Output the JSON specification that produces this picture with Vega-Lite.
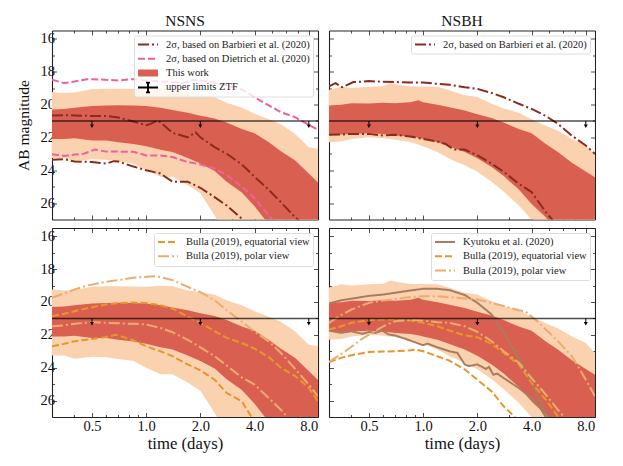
{
  "$schema": "https://vega.github.io/schema/vega-lite/v6.json",
  "background": "white",
  "padding": {"left": 16, "top": 13.5, "right": 0, "bottom": 0},
  "columns": 2,
  "spacing": {"row": 6.5, "column": 9},
  "resolve": {
    "scale": {"stroke": "independent", "fill": "independent", "shape": "independent", "strokeDash": "independent"},
    "legend": {"stroke": "independent", "fill": "independent", "shape": "independent", "strokeDash": "independent"}
  },
  "config": {
    "view": {"stroke": null},
    "font": "Liberation Serif",
    "title": {"fontSize": 15.5, "fontWeight": "normal", "offset": 1, "color": "#111"},
    "axis": {
      "grid": false, "zindex": 1, "domainColor": "#222", "tickColor": "#222", "labelColor": "#111", "titleColor": "#111",
      "labelFontSize": 14.5, "titleFontWeight": "normal", "tickWidth": 0.8, "domainWidth": 1.1,
      "labelFont": "Liberation Serif", "titleFont": "Liberation Serif", "tickSize": -4.5
    },
    "axisX": {"labelPadding": 6.5, "titlePadding": 3, "titleFontSize": 16.7},
    "axisY": {"labelPadding": 2, "titlePadding": 8.5, "titleFontSize": 15.5},
    "legend": {
      "orient": "top-right", "offset": 5, "padding": 3, "labelFontSize": 10.5, "labelFont": "Liberation Serif", "labelColor": "#222",
      "fillColor": "rgba(255,255,255,0.8)", "strokeColor": "#ddd", "cornerRadius": 2, "labelLimit": 300,
      "symbolSize": 400, "clipHeight": 12, "rowPadding": 2.3, "labelOffset": 7, "symbolStrokeWidth": 2, "symbolOpacity": 1
    }
  },
  "datasets": {
    "bands": [
      {"model":"NSNS","level":"outer","t":0.3,"mag":19.24,"mag2":23.26},{"model":"NSNS","level":"outer","t":0.35,"mag":19.3,"mag2":23.26},{"model":"NSNS","level":"outer","t":0.4,"mag":19.28,"mag2":23.45},{"model":"NSNS","level":"outer","t":0.5,"mag":19.08,"mag2":23.33},{"model":"NSNS","level":"outer","t":0.6,"mag":19.05,"mag2":23.37},{"model":"NSNS","level":"outer","t":0.7,"mag":19.05,"mag2":23.47},{"model":"NSNS","level":"outer","t":0.85,"mag":19.06,"mag2":23.6},{"model":"NSNS","level":"outer","t":1,"mag":19.08,"mag2":24},{"model":"NSNS","level":"outer","t":1.2,"mag":19.02,"mag2":24.4},{"model":"NSNS","level":"outer","t":1.4,"mag":19.04,"mag2":24.4},{"model":"NSNS","level":"outer","t":1.7,"mag":19.3,"mag2":24.9},{"model":"NSNS","level":"outer","t":2,"mag":19.4,"mag2":25.4},{"model":"NSNS","level":"outer","t":2.4,"mag":19.56,"mag2":26.75},{"model":"NSNS","level":"outer","t":2.8,"mag":19.9,"mag2":28},{"model":"NSNS","level":"outer","t":3.4,"mag":20.2,"mag2":29},{"model":"NSNS","level":"outer","t":4,"mag":20.56,"mag2":30},{"model":"NSNS","level":"outer","t":4.8,"mag":20.9,"mag2":31},{"model":"NSNS","level":"outer","t":5.6,"mag":21.2,"mag2":32},{"model":"NSNS","level":"outer","t":6.7,"mag":21.78,"mag2":33},{"model":"NSNS","level":"outer","t":8,"mag":22.6,"mag2":34},{"model":"NSNS","level":"outer","t":9,"mag":22.7,"mag2":35},
      {"model":"NSNS","level":"inner","t":0.3,"mag":20.3,"mag2":22.1},{"model":"NSNS","level":"inner","t":0.35,"mag":20.28,"mag2":22.1},{"model":"NSNS","level":"inner","t":0.4,"mag":20.2,"mag2":22.05},{"model":"NSNS","level":"inner","t":0.5,"mag":20.1,"mag2":22.2},{"model":"NSNS","level":"inner","t":0.6,"mag":20.07,"mag2":22.2},{"model":"NSNS","level":"inner","t":0.7,"mag":20.05,"mag2":22.3},{"model":"NSNS","level":"inner","t":0.85,"mag":20.07,"mag2":22.4},{"model":"NSNS","level":"inner","t":1,"mag":20.1,"mag2":22.55},{"model":"NSNS","level":"inner","t":1.2,"mag":20.2,"mag2":22.75},{"model":"NSNS","level":"inner","t":1.4,"mag":20.34,"mag2":22.9},{"model":"NSNS","level":"inner","t":1.7,"mag":20.5,"mag2":23.26},{"model":"NSNS","level":"inner","t":2,"mag":20.68,"mag2":23.6},{"model":"NSNS","level":"inner","t":2.4,"mag":20.85,"mag2":24.05},{"model":"NSNS","level":"inner","t":2.8,"mag":21.1,"mag2":24.7},{"model":"NSNS","level":"inner","t":3.4,"mag":21.5,"mag2":25.35},{"model":"NSNS","level":"inner","t":4,"mag":21.75,"mag2":26.2},{"model":"NSNS","level":"inner","t":4.8,"mag":22.3,"mag2":27.3},{"model":"NSNS","level":"inner","t":5.6,"mag":22.85,"mag2":28.5},{"model":"NSNS","level":"inner","t":6.7,"mag":23.4,"mag2":30},{"model":"NSNS","level":"inner","t":8,"mag":24.2,"mag2":31},{"model":"NSNS","level":"inner","t":9,"mag":24.75,"mag2":32},
      {"model":"NSBH","level":"outer","t":0.3,"mag":19.12,"mag2":22.3},{"model":"NSBH","level":"outer","t":0.35,"mag":18.92,"mag2":22.25},{"model":"NSBH","level":"outer","t":0.4,"mag":19,"mag2":22.1},{"model":"NSBH","level":"outer","t":0.5,"mag":18.93,"mag2":22},{"model":"NSBH","level":"outer","t":0.6,"mag":18.89,"mag2":22.05},{"model":"NSBH","level":"outer","t":0.66,"mag":18.7,"mag2":22.1},{"model":"NSBH","level":"outer","t":0.7,"mag":18.77,"mag2":22.15},{"model":"NSBH","level":"outer","t":0.85,"mag":18.9,"mag2":22.29},{"model":"NSBH","level":"outer","t":1,"mag":18.9,"mag2":22.55},{"model":"NSBH","level":"outer","t":1.2,"mag":18.93,"mag2":22.9},{"model":"NSBH","level":"outer","t":1.4,"mag":19.14,"mag2":23.3},{"model":"NSBH","level":"outer","t":1.7,"mag":19.44,"mag2":23.7},{"model":"NSBH","level":"outer","t":2,"mag":19.55,"mag2":24.1},{"model":"NSBH","level":"outer","t":2.4,"mag":19.95,"mag2":24.7},{"model":"NSBH","level":"outer","t":2.8,"mag":20.25,"mag2":25.3},{"model":"NSBH","level":"outer","t":3.4,"mag":20.5,"mag2":26.15},{"model":"NSBH","level":"outer","t":4,"mag":20.9,"mag2":27},{"model":"NSBH","level":"outer","t":4.8,"mag":21.3,"mag2":28.5},{"model":"NSBH","level":"outer","t":5.6,"mag":21.6,"mag2":30},{"model":"NSBH","level":"outer","t":6.7,"mag":22.1,"mag2":31},{"model":"NSBH","level":"outer","t":8,"mag":22.5,"mag2":32},{"model":"NSBH","level":"outer","t":9,"mag":23.1,"mag2":33},
      {"model":"NSBH","level":"inner","t":0.3,"mag":20.06,"mag2":21.79},{"model":"NSBH","level":"inner","t":0.35,"mag":20.02,"mag2":21.83},{"model":"NSBH","level":"inner","t":0.4,"mag":19.92,"mag2":21.79},{"model":"NSBH","level":"inner","t":0.5,"mag":19.94,"mag2":21.75},{"model":"NSBH","level":"inner","t":0.6,"mag":19.9,"mag2":21.79},{"model":"NSBH","level":"inner","t":0.7,"mag":19.92,"mag2":21.89},{"model":"NSBH","level":"inner","t":0.85,"mag":19.86,"mag2":21.95},{"model":"NSBH","level":"inner","t":0.94,"mag":19.74,"mag2":22.02},{"model":"NSBH","level":"inner","t":1,"mag":19.86,"mag2":22.1},{"model":"NSBH","level":"inner","t":1.2,"mag":20.02,"mag2":22.3},{"model":"NSBH","level":"inner","t":1.4,"mag":20.17,"mag2":22.56},{"model":"NSBH","level":"inner","t":1.7,"mag":20.37,"mag2":22.9},{"model":"NSBH","level":"inner","t":2,"mag":20.6,"mag2":23.27},{"model":"NSBH","level":"inner","t":2.4,"mag":20.83,"mag2":23.8},{"model":"NSBH","level":"inner","t":2.8,"mag":21.1,"mag2":24.36},{"model":"NSBH","level":"inner","t":3.4,"mag":21.5,"mag2":25.18},{"model":"NSBH","level":"inner","t":4,"mag":21.75,"mag2":26.05},{"model":"NSBH","level":"inner","t":4.8,"mag":22.4,"mag2":26.86},{"model":"NSBH","level":"inner","t":5.6,"mag":22.9,"mag2":28},{"model":"NSBH","level":"inner","t":6.7,"mag":23.55,"mag2":29},{"model":"NSBH","level":"inner","t":8,"mag":24.08,"mag2":30},{"model":"NSBH","level":"inner","t":9,"mag":24.43,"mag2":31}
    ],
    "limits": [
      {"t":0.5,"mag":21,"mag2":21.33},{"t":2,"mag":21,"mag2":21.33},{"t":8,"mag":21,"mag2":21.33}
    ],
    "curves": [
      {"panel":"a","series":"2σ, based on Barbieri et al. (2020)","curve":"bright","t":0.3,"mag":20.67},{"panel":"a","series":"2σ, based on Barbieri et al. (2020)","curve":"bright","t":0.35,"mag":20.65},{"panel":"a","series":"2σ, based on Barbieri et al. (2020)","curve":"bright","t":0.4,"mag":20.67},{"panel":"a","series":"2σ, based on Barbieri et al. (2020)","curve":"bright","t":0.5,"mag":20.7},{"panel":"a","series":"2σ, based on Barbieri et al. (2020)","curve":"bright","t":0.6,"mag":20.7},{"panel":"a","series":"2σ, based on Barbieri et al. (2020)","curve":"bright","t":0.7,"mag":20.8},{"panel":"a","series":"2σ, based on Barbieri et al. (2020)","curve":"bright","t":0.85,"mag":21.04},{"panel":"a","series":"2σ, based on Barbieri et al. (2020)","curve":"bright","t":1,"mag":21.26},{"panel":"a","series":"2σ, based on Barbieri et al. (2020)","curve":"bright","t":1.06,"mag":21.18},{"panel":"a","series":"2σ, based on Barbieri et al. (2020)","curve":"bright","t":1.15,"mag":20.98},{"panel":"a","series":"2σ, based on Barbieri et al. (2020)","curve":"bright","t":1.2,"mag":21.08},{"panel":"a","series":"2σ, based on Barbieri et al. (2020)","curve":"bright","t":1.4,"mag":21.73},{"panel":"a","series":"2σ, based on Barbieri et al. (2020)","curve":"bright","t":1.7,"mag":22},{"panel":"a","series":"2σ, based on Barbieri et al. (2020)","curve":"bright","t":1.88,"mag":21.7},{"panel":"a","series":"2σ, based on Barbieri et al. (2020)","curve":"bright","t":2,"mag":22},{"panel":"a","series":"2σ, based on Barbieri et al. (2020)","curve":"bright","t":2.4,"mag":22.6},{"panel":"a","series":"2σ, based on Barbieri et al. (2020)","curve":"bright","t":2.8,"mag":23},{"panel":"a","series":"2σ, based on Barbieri et al. (2020)","curve":"bright","t":3.4,"mag":23.65},{"panel":"a","series":"2σ, based on Barbieri et al. (2020)","curve":"bright","t":4,"mag":24.4},{"panel":"a","series":"2σ, based on Barbieri et al. (2020)","curve":"bright","t":4.8,"mag":25.2},{"panel":"a","series":"2σ, based on Barbieri et al. (2020)","curve":"bright","t":5.6,"mag":25.95},{"panel":"a","series":"2σ, based on Barbieri et al. (2020)","curve":"bright","t":6.7,"mag":26.85},{"panel":"a","series":"2σ, based on Barbieri et al. (2020)","curve":"bright","t":8,"mag":27.6},
      {"panel":"a","series":"2σ, based on Barbieri et al. (2020)","curve":"faint","t":0.3,"mag":23.37},{"panel":"a","series":"2σ, based on Barbieri et al. (2020)","curve":"faint","t":0.35,"mag":23.33},{"panel":"a","series":"2σ, based on Barbieri et al. (2020)","curve":"faint","t":0.4,"mag":23.47},{"panel":"a","series":"2σ, based on Barbieri et al. (2020)","curve":"faint","t":0.5,"mag":23.5},{"panel":"a","series":"2σ, based on Barbieri et al. (2020)","curve":"faint","t":0.6,"mag":23.6},{"panel":"a","series":"2σ, based on Barbieri et al. (2020)","curve":"faint","t":0.66,"mag":23.45},{"panel":"a","series":"2σ, based on Barbieri et al. (2020)","curve":"faint","t":0.7,"mag":23.47},{"panel":"a","series":"2σ, based on Barbieri et al. (2020)","curve":"faint","t":0.85,"mag":23.78},{"panel":"a","series":"2σ, based on Barbieri et al. (2020)","curve":"faint","t":1,"mag":24},{"panel":"a","series":"2σ, based on Barbieri et al. (2020)","curve":"faint","t":1.2,"mag":24.2},{"panel":"a","series":"2σ, based on Barbieri et al. (2020)","curve":"faint","t":1.4,"mag":24.7},{"panel":"a","series":"2σ, based on Barbieri et al. (2020)","curve":"faint","t":1.7,"mag":24.7},{"panel":"a","series":"2σ, based on Barbieri et al. (2020)","curve":"faint","t":2,"mag":25.07},{"panel":"a","series":"2σ, based on Barbieri et al. (2020)","curve":"faint","t":2.4,"mag":25.64},{"panel":"a","series":"2σ, based on Barbieri et al. (2020)","curve":"faint","t":2.8,"mag":26.15},{"panel":"a","series":"2σ, based on Barbieri et al. (2020)","curve":"faint","t":3.4,"mag":26.96},{"panel":"a","series":"2σ, based on Barbieri et al. (2020)","curve":"faint","t":4,"mag":27.8},
      {"panel":"a","series":"2σ, based on Dietrich et al. (2020)","curve":"bright","t":0.3,"mag":18.5},{"panel":"a","series":"2σ, based on Dietrich et al. (2020)","curve":"bright","t":0.35,"mag":18.7},{"panel":"a","series":"2σ, based on Dietrich et al. (2020)","curve":"bright","t":0.4,"mag":18.6},{"panel":"a","series":"2σ, based on Dietrich et al. (2020)","curve":"bright","t":0.47,"mag":18.46},{"panel":"a","series":"2σ, based on Dietrich et al. (2020)","curve":"bright","t":0.5,"mag":18.46},{"panel":"a","series":"2σ, based on Dietrich et al. (2020)","curve":"bright","t":0.7,"mag":18.54},{"panel":"a","series":"2σ, based on Dietrich et al. (2020)","curve":"bright","t":0.85,"mag":18.46},{"panel":"a","series":"2σ, based on Dietrich et al. (2020)","curve":"bright","t":1,"mag":18.54},{"panel":"a","series":"2σ, based on Dietrich et al. (2020)","curve":"bright","t":1.2,"mag":18.6},{"panel":"a","series":"2σ, based on Dietrich et al. (2020)","curve":"bright","t":1.4,"mag":18.64},{"panel":"a","series":"2σ, based on Dietrich et al. (2020)","curve":"bright","t":1.59,"mag":18.7},{"panel":"a","series":"2σ, based on Dietrich et al. (2020)","curve":"bright","t":1.81,"mag":18.5},{"panel":"a","series":"2σ, based on Dietrich et al. (2020)","curve":"bright","t":2,"mag":18.54},{"panel":"a","series":"2σ, based on Dietrich et al. (2020)","curve":"bright","t":2.4,"mag":18.68},{"panel":"a","series":"2σ, based on Dietrich et al. (2020)","curve":"bright","t":2.8,"mag":18.85},{"panel":"a","series":"2σ, based on Dietrich et al. (2020)","curve":"bright","t":3.4,"mag":19.09},{"panel":"a","series":"2σ, based on Dietrich et al. (2020)","curve":"bright","t":4,"mag":19.56},{"panel":"a","series":"2σ, based on Dietrich et al. (2020)","curve":"bright","t":4.8,"mag":20.06},{"panel":"a","series":"2σ, based on Dietrich et al. (2020)","curve":"bright","t":5.6,"mag":20.47},{"panel":"a","series":"2σ, based on Dietrich et al. (2020)","curve":"bright","t":6.7,"mag":20.77},{"panel":"a","series":"2σ, based on Dietrich et al. (2020)","curve":"bright","t":8,"mag":21.24},{"panel":"a","series":"2σ, based on Dietrich et al. (2020)","curve":"bright","t":9,"mag":21.54},
      {"panel":"a","series":"2σ, based on Dietrich et al. (2020)","curve":"faint","t":0.3,"mag":23.03},{"panel":"a","series":"2σ, based on Dietrich et al. (2020)","curve":"faint","t":0.35,"mag":23.13},{"panel":"a","series":"2σ, based on Dietrich et al. (2020)","curve":"faint","t":0.4,"mag":23.05},{"panel":"a","series":"2σ, based on Dietrich et al. (2020)","curve":"faint","t":0.45,"mag":23},{"panel":"a","series":"2σ, based on Dietrich et al. (2020)","curve":"faint","t":0.52,"mag":22.74},{"panel":"a","series":"2σ, based on Dietrich et al. (2020)","curve":"faint","t":0.6,"mag":22.87},{"panel":"a","series":"2σ, based on Dietrich et al. (2020)","curve":"faint","t":0.7,"mag":22.87},{"panel":"a","series":"2σ, based on Dietrich et al. (2020)","curve":"faint","t":0.85,"mag":22.88},{"panel":"a","series":"2σ, based on Dietrich et al. (2020)","curve":"faint","t":1,"mag":23.1},{"panel":"a","series":"2σ, based on Dietrich et al. (2020)","curve":"faint","t":1.2,"mag":23.1},{"panel":"a","series":"2σ, based on Dietrich et al. (2020)","curve":"faint","t":1.4,"mag":23.2},{"panel":"a","series":"2σ, based on Dietrich et al. (2020)","curve":"faint","t":1.7,"mag":23.5},{"panel":"a","series":"2σ, based on Dietrich et al. (2020)","curve":"faint","t":2,"mag":23.65},{"panel":"a","series":"2σ, based on Dietrich et al. (2020)","curve":"faint","t":2.4,"mag":23.9},{"panel":"a","series":"2σ, based on Dietrich et al. (2020)","curve":"faint","t":2.8,"mag":24.3},{"panel":"a","series":"2σ, based on Dietrich et al. (2020)","curve":"faint","t":3.4,"mag":25},{"panel":"a","series":"2σ, based on Dietrich et al. (2020)","curve":"faint","t":4,"mag":25.7},{"panel":"a","series":"2σ, based on Dietrich et al. (2020)","curve":"faint","t":4.8,"mag":26.75},{"panel":"a","series":"2σ, based on Dietrich et al. (2020)","curve":"faint","t":5.13,"mag":27.1},{"panel":"a","series":"2σ, based on Dietrich et al. (2020)","curve":"faint","t":5.6,"mag":27.7},

      {"panel":"b","series":"2σ, based on Barbieri et al. (2020)","curve":"bright","t":0.3,"mag":18.9},{"panel":"b","series":"2σ, based on Barbieri et al. (2020)","curve":"bright","t":0.326,"mag":18.7},{"panel":"b","series":"2σ, based on Barbieri et al. (2020)","curve":"bright","t":0.355,"mag":18.95},{"panel":"b","series":"2σ, based on Barbieri et al. (2020)","curve":"bright","t":0.41,"mag":18.64},{"panel":"b","series":"2σ, based on Barbieri et al. (2020)","curve":"bright","t":0.5,"mag":18.58},{"panel":"b","series":"2σ, based on Barbieri et al. (2020)","curve":"bright","t":0.6,"mag":18.62},{"panel":"b","series":"2σ, based on Barbieri et al. (2020)","curve":"bright","t":0.85,"mag":18.66},{"panel":"b","series":"2σ, based on Barbieri et al. (2020)","curve":"bright","t":1,"mag":18.66},{"panel":"b","series":"2σ, based on Barbieri et al. (2020)","curve":"bright","t":1.2,"mag":18.75},{"panel":"b","series":"2σ, based on Barbieri et al. (2020)","curve":"bright","t":1.4,"mag":18.8},{"panel":"b","series":"2σ, based on Barbieri et al. (2020)","curve":"bright","t":1.7,"mag":18.95},{"panel":"b","series":"2σ, based on Barbieri et al. (2020)","curve":"bright","t":2,"mag":19.05},{"panel":"b","series":"2σ, based on Barbieri et al. (2020)","curve":"bright","t":2.4,"mag":19.3},{"panel":"b","series":"2σ, based on Barbieri et al. (2020)","curve":"bright","t":2.8,"mag":19.56},{"panel":"b","series":"2σ, based on Barbieri et al. (2020)","curve":"bright","t":3.4,"mag":19.96},{"panel":"b","series":"2σ, based on Barbieri et al. (2020)","curve":"bright","t":4,"mag":20.27},{"panel":"b","series":"2σ, based on Barbieri et al. (2020)","curve":"bright","t":4.8,"mag":20.7},{"panel":"b","series":"2σ, based on Barbieri et al. (2020)","curve":"bright","t":5.6,"mag":21.18},{"panel":"b","series":"2σ, based on Barbieri et al. (2020)","curve":"bright","t":6.7,"mag":21.9},{"panel":"b","series":"2σ, based on Barbieri et al. (2020)","curve":"bright","t":8,"mag":22.5},{"panel":"b","series":"2σ, based on Barbieri et al. (2020)","curve":"bright","t":9,"mag":23},
      {"panel":"b","series":"2σ, based on Barbieri et al. (2020)","curve":"faint","t":0.3,"mag":21.85},{"panel":"b","series":"2σ, based on Barbieri et al. (2020)","curve":"faint","t":0.35,"mag":21.83},{"panel":"b","series":"2σ, based on Barbieri et al. (2020)","curve":"faint","t":0.4,"mag":21.79},{"panel":"b","series":"2σ, based on Barbieri et al. (2020)","curve":"faint","t":0.5,"mag":21.79},{"panel":"b","series":"2σ, based on Barbieri et al. (2020)","curve":"faint","t":0.6,"mag":21.89},{"panel":"b","series":"2σ, based on Barbieri et al. (2020)","curve":"faint","t":0.7,"mag":21.85},{"panel":"b","series":"2σ, based on Barbieri et al. (2020)","curve":"faint","t":0.85,"mag":21.95},{"panel":"b","series":"2σ, based on Barbieri et al. (2020)","curve":"faint","t":1,"mag":22.1},{"panel":"b","series":"2σ, based on Barbieri et al. (2020)","curve":"faint","t":1.2,"mag":22.26},{"panel":"b","series":"2σ, based on Barbieri et al. (2020)","curve":"faint","t":1.33,"mag":22.4},{"panel":"b","series":"2σ, based on Barbieri et al. (2020)","curve":"faint","t":1.48,"mag":22.74},{"panel":"b","series":"2σ, based on Barbieri et al. (2020)","curve":"faint","t":1.7,"mag":22.74},{"panel":"b","series":"2σ, based on Barbieri et al. (2020)","curve":"faint","t":2,"mag":23.1},{"panel":"b","series":"2σ, based on Barbieri et al. (2020)","curve":"faint","t":2.4,"mag":23.6},{"panel":"b","series":"2σ, based on Barbieri et al. (2020)","curve":"faint","t":2.8,"mag":24.1},{"panel":"b","series":"2σ, based on Barbieri et al. (2020)","curve":"faint","t":3.4,"mag":24.83},{"panel":"b","series":"2σ, based on Barbieri et al. (2020)","curve":"faint","t":4,"mag":25.33},{"panel":"b","series":"2σ, based on Barbieri et al. (2020)","curve":"faint","t":4.8,"mag":26.55},{"panel":"b","series":"2σ, based on Barbieri et al. (2020)","curve":"faint","t":5.2,"mag":27},{"panel":"b","series":"2σ, based on Barbieri et al. (2020)","curve":"faint","t":5.6,"mag":27.6},

      {"panel":"c","series":"Bulla (2019), equatorial view","curve":"bright","t":0.3,"mag":20.87},{"panel":"c","series":"Bulla (2019), equatorial view","curve":"bright","t":0.35,"mag":20.72},{"panel":"c","series":"Bulla (2019), equatorial view","curve":"bright","t":0.4,"mag":20.56},{"panel":"c","series":"Bulla (2019), equatorial view","curve":"bright","t":0.5,"mag":20.32},{"panel":"c","series":"Bulla (2019), equatorial view","curve":"bright","t":0.6,"mag":20.15},{"panel":"c","series":"Bulla (2019), equatorial view","curve":"bright","t":0.7,"mag":20.07},{"panel":"c","series":"Bulla (2019), equatorial view","curve":"bright","t":0.85,"mag":20.03},{"panel":"c","series":"Bulla (2019), equatorial view","curve":"bright","t":1,"mag":20.07},{"panel":"c","series":"Bulla (2019), equatorial view","curve":"bright","t":1.2,"mag":20.2},{"panel":"c","series":"Bulla (2019), equatorial view","curve":"bright","t":1.4,"mag":20.4},{"panel":"c","series":"Bulla (2019), equatorial view","curve":"bright","t":1.7,"mag":20.9},{"panel":"c","series":"Bulla (2019), equatorial view","curve":"bright","t":2,"mag":21.27},{"panel":"c","series":"Bulla (2019), equatorial view","curve":"bright","t":2.4,"mag":21.78},{"panel":"c","series":"Bulla (2019), equatorial view","curve":"bright","t":2.8,"mag":22.19},{"panel":"c","series":"Bulla (2019), equatorial view","curve":"bright","t":3.4,"mag":22.5},{"panel":"c","series":"Bulla (2019), equatorial view","curve":"bright","t":4,"mag":22.84},{"panel":"c","series":"Bulla (2019), equatorial view","curve":"bright","t":4.8,"mag":23.36},{"panel":"c","series":"Bulla (2019), equatorial view","curve":"bright","t":5.6,"mag":24},{"panel":"c","series":"Bulla (2019), equatorial view","curve":"bright","t":6.7,"mag":24.5},{"panel":"c","series":"Bulla (2019), equatorial view","curve":"bright","t":8,"mag":25.23},{"panel":"c","series":"Bulla (2019), equatorial view","curve":"bright","t":9,"mag":26.05},
      {"panel":"c","series":"Bulla (2019), equatorial view","curve":"faint","t":0.3,"mag":22.7},{"panel":"c","series":"Bulla (2019), equatorial view","curve":"faint","t":0.35,"mag":22.55},{"panel":"c","series":"Bulla (2019), equatorial view","curve":"faint","t":0.4,"mag":22.39},{"panel":"c","series":"Bulla (2019), equatorial view","curve":"faint","t":0.5,"mag":22.25},{"panel":"c","series":"Bulla (2019), equatorial view","curve":"faint","t":0.6,"mag":22.13},{"panel":"c","series":"Bulla (2019), equatorial view","curve":"faint","t":0.68,"mag":22},{"panel":"c","series":"Bulla (2019), equatorial view","curve":"faint","t":0.7,"mag":22.04},{"panel":"c","series":"Bulla (2019), equatorial view","curve":"faint","t":0.85,"mag":22.33},{"panel":"c","series":"Bulla (2019), equatorial view","curve":"faint","t":1,"mag":22.7},{"panel":"c","series":"Bulla (2019), equatorial view","curve":"faint","t":1.2,"mag":23},{"panel":"c","series":"Bulla (2019), equatorial view","curve":"faint","t":1.4,"mag":23.3},{"panel":"c","series":"Bulla (2019), equatorial view","curve":"faint","t":1.7,"mag":23.8},{"panel":"c","series":"Bulla (2019), equatorial view","curve":"faint","t":2,"mag":24.16},{"panel":"c","series":"Bulla (2019), equatorial view","curve":"faint","t":2.4,"mag":24.73},{"panel":"c","series":"Bulla (2019), equatorial view","curve":"faint","t":2.8,"mag":25.54},{"panel":"c","series":"Bulla (2019), equatorial view","curve":"faint","t":3.4,"mag":26.05},{"panel":"c","series":"Bulla (2019), equatorial view","curve":"faint","t":4,"mag":27.3},
      {"panel":"c","series":"Bulla (2019), polar view","curve":"bright","t":0.3,"mag":19.75},{"panel":"c","series":"Bulla (2019), polar view","curve":"bright","t":0.4,"mag":19.24},{"panel":"c","series":"Bulla (2019), polar view","curve":"bright","t":0.47,"mag":19},{"panel":"c","series":"Bulla (2019), polar view","curve":"bright","t":0.6,"mag":18.77},{"panel":"c","series":"Bulla (2019), polar view","curve":"bright","t":0.85,"mag":18.53},{"panel":"c","series":"Bulla (2019), polar view","curve":"bright","t":1,"mag":18.47},{"panel":"c","series":"Bulla (2019), polar view","curve":"bright","t":1.15,"mag":18.43},{"panel":"c","series":"Bulla (2019), polar view","curve":"bright","t":1.4,"mag":18.67},{"panel":"c","series":"Bulla (2019), polar view","curve":"bright","t":1.7,"mag":19.08},{"panel":"c","series":"Bulla (2019), polar view","curve":"bright","t":2,"mag":19.4},{"panel":"c","series":"Bulla (2019), polar view","curve":"bright","t":2.4,"mag":19.9},{"panel":"c","series":"Bulla (2019), polar view","curve":"bright","t":2.8,"mag":20.5},{"panel":"c","series":"Bulla (2019), polar view","curve":"bright","t":3.4,"mag":21.2},{"panel":"c","series":"Bulla (2019), polar view","curve":"bright","t":4,"mag":21.8},{"panel":"c","series":"Bulla (2019), polar view","curve":"bright","t":4.8,"mag":22.4},{"panel":"c","series":"Bulla (2019), polar view","curve":"bright","t":5.6,"mag":23.1},{"panel":"c","series":"Bulla (2019), polar view","curve":"bright","t":6.7,"mag":24.06},{"panel":"c","series":"Bulla (2019), polar view","curve":"bright","t":8,"mag":25.03},{"panel":"c","series":"Bulla (2019), polar view","curve":"bright","t":9,"mag":25.74},
      {"panel":"c","series":"Bulla (2019), polar view","curve":"faint","t":0.3,"mag":21.48},{"panel":"c","series":"Bulla (2019), polar view","curve":"faint","t":0.35,"mag":21.42},{"panel":"c","series":"Bulla (2019), polar view","curve":"faint","t":0.4,"mag":21.33},{"panel":"c","series":"Bulla (2019), polar view","curve":"faint","t":0.5,"mag":21.23},{"panel":"c","series":"Bulla (2019), polar view","curve":"faint","t":0.6,"mag":21.27},{"panel":"c","series":"Bulla (2019), polar view","curve":"faint","t":0.7,"mag":21.3},{"panel":"c","series":"Bulla (2019), polar view","curve":"faint","t":0.85,"mag":21.33},{"panel":"c","series":"Bulla (2019), polar view","curve":"faint","t":1,"mag":21.37},{"panel":"c","series":"Bulla (2019), polar view","curve":"faint","t":1.2,"mag":21.58},{"panel":"c","series":"Bulla (2019), polar view","curve":"faint","t":1.4,"mag":21.84},{"panel":"c","series":"Bulla (2019), polar view","curve":"faint","t":1.7,"mag":22.3},{"panel":"c","series":"Bulla (2019), polar view","curve":"faint","t":2,"mag":22.76},{"panel":"c","series":"Bulla (2019), polar view","curve":"faint","t":2.4,"mag":23.3},{"panel":"c","series":"Bulla (2019), polar view","curve":"faint","t":2.8,"mag":23.87},{"panel":"c","series":"Bulla (2019), polar view","curve":"faint","t":3.4,"mag":24.6},{"panel":"c","series":"Bulla (2019), polar view","curve":"faint","t":4,"mag":25.03},{"panel":"c","series":"Bulla (2019), polar view","curve":"faint","t":4.8,"mag":25.85},{"panel":"c","series":"Bulla (2019), polar view","curve":"faint","t":5.6,"mag":26.56},{"panel":"c","series":"Bulla (2019), polar view","curve":"faint","t":6.09,"mag":27},{"panel":"c","series":"Bulla (2019), polar view","curve":"faint","t":6.7,"mag":27.6},

      {"panel":"d","series":"Kyutoku et al. (2020)","curve":"bright","t":0.3,"mag":20.1},{"panel":"d","series":"Kyutoku et al. (2020)","curve":"bright","t":0.35,"mag":19.9},{"panel":"d","series":"Kyutoku et al. (2020)","curve":"bright","t":0.4,"mag":19.8},{"panel":"d","series":"Kyutoku et al. (2020)","curve":"bright","t":0.5,"mag":19.63},{"panel":"d","series":"Kyutoku et al. (2020)","curve":"bright","t":0.6,"mag":19.55},{"panel":"d","series":"Kyutoku et al. (2020)","curve":"bright","t":0.7,"mag":19.44},{"panel":"d","series":"Kyutoku et al. (2020)","curve":"bright","t":0.85,"mag":19.3},{"panel":"d","series":"Kyutoku et al. (2020)","curve":"bright","t":1,"mag":19.2},{"panel":"d","series":"Kyutoku et al. (2020)","curve":"bright","t":1.2,"mag":19.2},{"panel":"d","series":"Kyutoku et al. (2020)","curve":"bright","t":1.4,"mag":19.28},{"panel":"d","series":"Kyutoku et al. (2020)","curve":"bright","t":1.7,"mag":19.58},{"panel":"d","series":"Kyutoku et al. (2020)","curve":"bright","t":2,"mag":20.05},{"panel":"d","series":"Kyutoku et al. (2020)","curve":"bright","t":2.4,"mag":20.76},{"panel":"d","series":"Kyutoku et al. (2020)","curve":"bright","t":2.8,"mag":21.88},{"panel":"d","series":"Kyutoku et al. (2020)","curve":"bright","t":3.4,"mag":23.4},{"panel":"d","series":"Kyutoku et al. (2020)","curve":"bright","t":4,"mag":24.93},{"panel":"d","series":"Kyutoku et al. (2020)","curve":"bright","t":4.8,"mag":26.76},{"panel":"d","series":"Kyutoku et al. (2020)","curve":"bright","t":5,"mag":27},{"panel":"d","series":"Kyutoku et al. (2020)","curve":"bright","t":5.6,"mag":27.9},
      {"panel":"d","series":"Kyutoku et al. (2020)","curve":"faint","t":0.3,"mag":21.74},{"panel":"d","series":"Kyutoku et al. (2020)","curve":"faint","t":0.35,"mag":21.88},{"panel":"d","series":"Kyutoku et al. (2020)","curve":"faint","t":0.4,"mag":21.78},{"panel":"d","series":"Kyutoku et al. (2020)","curve":"faint","t":0.46,"mag":21.94},{"panel":"d","series":"Kyutoku et al. (2020)","curve":"faint","t":0.5,"mag":21.82},{"panel":"d","series":"Kyutoku et al. (2020)","curve":"faint","t":0.545,"mag":21.88},{"panel":"d","series":"Kyutoku et al. (2020)","curve":"faint","t":0.59,"mag":21.74},{"panel":"d","series":"Kyutoku et al. (2020)","curve":"faint","t":0.646,"mag":21.98},{"panel":"d","series":"Kyutoku et al. (2020)","curve":"faint","t":0.7,"mag":22.04},{"panel":"d","series":"Kyutoku et al. (2020)","curve":"faint","t":0.85,"mag":22.35},{"panel":"d","series":"Kyutoku et al. (2020)","curve":"faint","t":1,"mag":22.63},{"panel":"d","series":"Kyutoku et al. (2020)","curve":"faint","t":1.055,"mag":22.53},{"panel":"d","series":"Kyutoku et al. (2020)","curve":"faint","t":1.2,"mag":22.76},{"panel":"d","series":"Kyutoku et al. (2020)","curve":"faint","t":1.4,"mag":23},{"panel":"d","series":"Kyutoku et al. (2020)","curve":"faint","t":1.55,"mag":23.1},{"panel":"d","series":"Kyutoku et al. (2020)","curve":"faint","t":1.7,"mag":23.8},{"panel":"d","series":"Kyutoku et al. (2020)","curve":"faint","t":1.8,"mag":23.9},{"panel":"d","series":"Kyutoku et al. (2020)","curve":"faint","t":2,"mag":23.8},{"panel":"d","series":"Kyutoku et al. (2020)","curve":"faint","t":2.23,"mag":24.08},{"panel":"d","series":"Kyutoku et al. (2020)","curve":"faint","t":2.32,"mag":23.95},{"panel":"d","series":"Kyutoku et al. (2020)","curve":"faint","t":2.45,"mag":24.42},{"panel":"d","series":"Kyutoku et al. (2020)","curve":"faint","t":2.58,"mag":24.36},{"panel":"d","series":"Kyutoku et al. (2020)","curve":"faint","t":2.8,"mag":24.63},{"panel":"d","series":"Kyutoku et al. (2020)","curve":"faint","t":3.4,"mag":25.24},{"panel":"d","series":"Kyutoku et al. (2020)","curve":"faint","t":4,"mag":25.85},{"panel":"d","series":"Kyutoku et al. (2020)","curve":"faint","t":4.4,"mag":26.35},{"panel":"d","series":"Kyutoku et al. (2020)","curve":"faint","t":4.8,"mag":27},{"panel":"d","series":"Kyutoku et al. (2020)","curve":"faint","t":5.2,"mag":27.5},
      {"panel":"d","series":"Bulla (2019), equatorial view","curve":"bright","t":0.3,"mag":21.68},{"panel":"d","series":"Bulla (2019), equatorial view","curve":"bright","t":0.35,"mag":21.48},{"panel":"d","series":"Bulla (2019), equatorial view","curve":"bright","t":0.4,"mag":21.27},{"panel":"d","series":"Bulla (2019), equatorial view","curve":"bright","t":0.5,"mag":21.1},{"panel":"d","series":"Bulla (2019), equatorial view","curve":"bright","t":0.6,"mag":21.07},{"panel":"d","series":"Bulla (2019), equatorial view","curve":"bright","t":0.7,"mag":21.07},{"panel":"d","series":"Bulla (2019), equatorial view","curve":"bright","t":0.85,"mag":21.13},{"panel":"d","series":"Bulla (2019), equatorial view","curve":"bright","t":1,"mag":21.27},{"panel":"d","series":"Bulla (2019), equatorial view","curve":"bright","t":1.2,"mag":21.48},{"panel":"d","series":"Bulla (2019), equatorial view","curve":"bright","t":1.4,"mag":21.74},{"panel":"d","series":"Bulla (2019), equatorial view","curve":"bright","t":1.7,"mag":22.03},{"panel":"d","series":"Bulla (2019), equatorial view","curve":"bright","t":2,"mag":22.15},{"panel":"d","series":"Bulla (2019), equatorial view","curve":"bright","t":2.4,"mag":22.55},{"panel":"d","series":"Bulla (2019), equatorial view","curve":"bright","t":2.8,"mag":23.1},{"panel":"d","series":"Bulla (2019), equatorial view","curve":"bright","t":3.4,"mag":23.8},{"panel":"d","series":"Bulla (2019), equatorial view","curve":"bright","t":4,"mag":24.93},{"panel":"d","series":"Bulla (2019), equatorial view","curve":"bright","t":4.8,"mag":25.95},{"panel":"d","series":"Bulla (2019), equatorial view","curve":"bright","t":5.6,"mag":26.96},{"panel":"d","series":"Bulla (2019), equatorial view","curve":"bright","t":6,"mag":27.6},
      {"panel":"d","series":"Bulla (2019), equatorial view","curve":"faint","t":0.3,"mag":23.65},{"panel":"d","series":"Bulla (2019), equatorial view","curve":"faint","t":0.35,"mag":23.4},{"panel":"d","series":"Bulla (2019), equatorial view","curve":"faint","t":0.4,"mag":23.24},{"panel":"d","series":"Bulla (2019), equatorial view","curve":"faint","t":0.5,"mag":23.04},{"panel":"d","series":"Bulla (2019), equatorial view","curve":"faint","t":0.6,"mag":23.02},{"panel":"d","series":"Bulla (2019), equatorial view","curve":"faint","t":0.7,"mag":23},{"panel":"d","series":"Bulla (2019), equatorial view","curve":"faint","t":0.85,"mag":22.94},{"panel":"d","series":"Bulla (2019), equatorial view","curve":"faint","t":0.91,"mag":22.9},{"panel":"d","series":"Bulla (2019), equatorial view","curve":"faint","t":1,"mag":23},{"panel":"d","series":"Bulla (2019), equatorial view","curve":"faint","t":1.2,"mag":23.3},{"panel":"d","series":"Bulla (2019), equatorial view","curve":"faint","t":1.4,"mag":23.57},{"panel":"d","series":"Bulla (2019), equatorial view","curve":"faint","t":1.7,"mag":24.1},{"panel":"d","series":"Bulla (2019), equatorial view","curve":"faint","t":2,"mag":24.73},{"panel":"d","series":"Bulla (2019), equatorial view","curve":"faint","t":2.4,"mag":25.44},{"panel":"d","series":"Bulla (2019), equatorial view","curve":"faint","t":2.8,"mag":26.35},{"panel":"d","series":"Bulla (2019), equatorial view","curve":"faint","t":3.13,"mag":26.86},{"panel":"d","series":"Bulla (2019), equatorial view","curve":"faint","t":3.4,"mag":27.3},
      {"panel":"d","series":"Bulla (2019), polar view","curve":"bright","t":0.3,"mag":21.27},{"panel":"d","series":"Bulla (2019), polar view","curve":"bright","t":0.35,"mag":20.8},{"panel":"d","series":"Bulla (2019), polar view","curve":"bright","t":0.4,"mag":20.46},{"panel":"d","series":"Bulla (2019), polar view","curve":"bright","t":0.5,"mag":20.05},{"panel":"d","series":"Bulla (2019), polar view","curve":"bright","t":0.6,"mag":19.91},{"panel":"d","series":"Bulla (2019), polar view","curve":"bright","t":0.85,"mag":19.7},{"panel":"d","series":"Bulla (2019), polar view","curve":"bright","t":1,"mag":19.65},{"panel":"d","series":"Bulla (2019), polar view","curve":"bright","t":1.2,"mag":19.65},{"panel":"d","series":"Bulla (2019), polar view","curve":"bright","t":1.7,"mag":19.79},{"panel":"d","series":"Bulla (2019), polar view","curve":"bright","t":2,"mag":19.85},{"panel":"d","series":"Bulla (2019), polar view","curve":"bright","t":2.4,"mag":20.05},{"panel":"d","series":"Bulla (2019), polar view","curve":"bright","t":2.8,"mag":20.25},{"panel":"d","series":"Bulla (2019), polar view","curve":"bright","t":3.4,"mag":20.5},{"panel":"d","series":"Bulla (2019), polar view","curve":"bright","t":3.7,"mag":20.58},{"panel":"d","series":"Bulla (2019), polar view","curve":"bright","t":4.4,"mag":21.27},{"panel":"d","series":"Bulla (2019), polar view","curve":"bright","t":4.8,"mag":21.68},{"panel":"d","series":"Bulla (2019), polar view","curve":"bright","t":5.6,"mag":22.39},{"panel":"d","series":"Bulla (2019), polar view","curve":"bright","t":6.7,"mag":23.3},{"panel":"d","series":"Bulla (2019), polar view","curve":"bright","t":8,"mag":24.73},{"panel":"d","series":"Bulla (2019), polar view","curve":"bright","t":9,"mag":25.74},
      {"panel":"d","series":"Bulla (2019), polar view","curve":"faint","t":0.3,"mag":23.65},{"panel":"d","series":"Bulla (2019), polar view","curve":"faint","t":0.37,"mag":23},{"panel":"d","series":"Bulla (2019), polar view","curve":"faint","t":0.46,"mag":22.23},{"panel":"d","series":"Bulla (2019), polar view","curve":"faint","t":0.6,"mag":21.48},{"panel":"d","series":"Bulla (2019), polar view","curve":"faint","t":0.7,"mag":21.17},{"panel":"d","series":"Bulla (2019), polar view","curve":"faint","t":0.85,"mag":21.1},{"panel":"d","series":"Bulla (2019), polar view","curve":"faint","t":1,"mag":21.13},{"panel":"d","series":"Bulla (2019), polar view","curve":"faint","t":1.2,"mag":21.23},{"panel":"d","series":"Bulla (2019), polar view","curve":"faint","t":1.4,"mag":21.27},{"panel":"d","series":"Bulla (2019), polar view","curve":"faint","t":1.7,"mag":21.48},{"panel":"d","series":"Bulla (2019), polar view","curve":"faint","t":2,"mag":21.82},{"panel":"d","series":"Bulla (2019), polar view","curve":"faint","t":2.4,"mag":22.39},{"panel":"d","series":"Bulla (2019), polar view","curve":"faint","t":2.8,"mag":23},{"panel":"d","series":"Bulla (2019), polar view","curve":"faint","t":3.4,"mag":23.7},{"panel":"d","series":"Bulla (2019), polar view","curve":"faint","t":4,"mag":24.63},{"panel":"d","series":"Bulla (2019), polar view","curve":"faint","t":4.8,"mag":25.64},{"panel":"d","series":"Bulla (2019), polar view","curve":"faint","t":5.6,"mag":26.56},{"panel":"d","series":"Bulla (2019), polar view","curve":"faint","t":6.06,"mag":27},{"panel":"d","series":"Bulla (2019), polar view","curve":"faint","t":6.7,"mag":27.7}
    ]
  },
  "concat": [
    {
      "title": "NSNS", "width": 266, "height": 189,
      "encoding": {
        "x": {"field": "t", "type": "quantitative", "scale": {"type": "log", "base": 2, "domain": [0.3, 9], "nice": false}, "axis": null},
        "y": {"field": "mag", "type": "quantitative", "scale": {"domain": [15.5, 27], "reverse": true, "nice": false, "zero": false}, "axis": null}
      },
      "resolve": {"axis": {"x": "independent", "y": "independent"}},
      "layer": [
        {"data": {"name": "bands"}, "transform": [{"filter": "datum.model==='NSNS' && datum.level==='outer'"}], "mark": {"type": "area", "color": "#fbd2b0", "clip": true},
         "encoding": {"y2": {"field": "mag2"},
           "x": {"field": "t", "type": "quantitative", "axis": {"orient": "bottom", "values": [0.5,1,2,4,8], "labels": false, "title": null}},
           "y": {"field": "mag", "type": "quantitative", "axis": {"orient": "left", "values": [16,18,20,22,24,26], "title": "AB magnitude"}}}},
        {"data": {"name": "bands"}, "transform": [{"filter": "datum.model==='NSNS' && datum.level==='inner'"}], "mark": {"type": "area", "color": "#d96050", "clip": true},
         "encoding": {"y2": {"field": "mag2"},
           "x": {"field": "t", "type": "quantitative", "axis": {"orient": "bottom", "values": [0.3,0.4,0.6,0.7,0.8,0.9,3,5,6,7,9], "labels": false, "domain": false, "tickSize": -2.5, "title": null}},
           "y": {"field": "mag", "type": "quantitative", "axis": {"orient": "left", "values": [17,19,21,23,25], "labels": false, "domain": false, "tickSize": -2.5, "title": null}}}},
        {"data": {"name": "curves"}, "transform": [{"filter": "datum.panel==='a'"}], "mark": {"type": "line", "strokeWidth": 2, "clip": true},
         "encoding": {"detail": {"field": "curve"}, "stroke": {"field": "series", "title": null}, "strokeDash": {"field": "series", "title": null}}},
        {"data": {"name": "limits"}, "transform": [{"filter": "datum.t===2"}], "mark": {"type": "rule", "color": "#000", "opacity": 0.7, "strokeWidth": 1.5}, "encoding": {"x": null, "y": {"field": "mag", "type": "quantitative", "axis": null}}},
        {"data": {"name": "limits"}, "mark": {"type": "rule", "color": "#000", "strokeWidth": 1},
         "encoding": {"y2": {"field": "mag2"},
           "x": {"field": "t", "type": "quantitative", "axis": {"orient": "top", "values": [0.5,1,2,4,8], "labels": false, "title": null}},
           "y": {"field": "mag", "type": "quantitative", "axis": {"orient": "right", "values": [16,18,20,22,24,26], "labels": false, "title": null}}}},
        {"data": {"name": "limits"}, "mark": {"type": "point", "shape": "triangle-down", "filled": true, "color": "#000", "opacity": 1, "size": 16},
         "encoding": {
           "x": {"field": "t", "type": "quantitative", "axis": {"orient": "top", "values": [0.3,0.4,0.6,0.7,0.8,0.9,3,5,6,7,9], "labels": false, "domain": false, "tickSize": -2.5, "title": null}},
           "y": {"field": "mag2", "type": "quantitative", "axis": {"orient": "right", "values": [17,19,21,23,25], "labels": false, "domain": false, "tickSize": -2.5, "title": null}}}},
        {"data": {"values": []}, "mark": {"type": "point", "filled": false},
         "encoding": {
           "stroke": {"field": "series", "title": null, "scale": {"domain": ["2σ, based on Barbieri et al. (2020)", "2σ, based on Dietrich et al. (2020)", "This work", "upper limits ZTF"], "range": ["#8c2a1e", "#f0609e", "transparent", "#000000"]}},
           "fill": {"field": "series", "title": null, "scale": {"domain": ["2σ, based on Barbieri et al. (2020)", "2σ, based on Dietrich et al. (2020)", "This work", "upper limits ZTF"], "range": ["transparent", "transparent", "#d96050", "transparent"]}},
           "shape": {"field": "series", "title": null, "scale": {"domain": ["2σ, based on Barbieri et al. (2020)", "2σ, based on Dietrich et al. (2020)", "This work", "upper limits ZTF"], "range": ["M-1,0H1", "M-1,0H1", "M-1,-0.35H1V0.35H-1Z", "M-1,0H1M0,-0.5V0.5M-0.2,-0.5H0.2M-0.2,0.5H0.2"]}},
           "strokeDash": {"field": "series", "title": null, "scale": {"domain": ["2σ, based on Barbieri et al. (2020)", "2σ, based on Dietrich et al. (2020)", "This work", "upper limits ZTF"], "range": [[11,3,2,3], [7,3], [1,0], [1,0]]}}
         }}
      ]
    },
    {
      "title": "NSBH", "width": 266, "height": 189,
      "encoding": {
        "x": {"field": "t", "type": "quantitative", "scale": {"type": "log", "base": 2, "domain": [0.3, 9], "nice": false}, "axis": null},
        "y": {"field": "mag", "type": "quantitative", "scale": {"domain": [15.5, 27], "reverse": true, "nice": false, "zero": false}, "axis": null}
      },
      "resolve": {"axis": {"x": "independent", "y": "independent"}},
      "layer": [
        {"data": {"name": "bands"}, "transform": [{"filter": "datum.model==='NSBH' && datum.level==='outer'"}], "mark": {"type": "area", "color": "#fbd2b0", "clip": true},
         "encoding": {"y2": {"field": "mag2"},
           "x": {"field": "t", "type": "quantitative", "axis": {"orient": "bottom", "values": [0.5,1,2,4,8], "labels": false, "title": null}},
           "y": {"field": "mag", "type": "quantitative", "axis": {"orient": "left", "values": [16,18,20,22,24,26], "labels": false, "title": null}}}},
        {"data": {"name": "bands"}, "transform": [{"filter": "datum.model==='NSBH' && datum.level==='inner'"}], "mark": {"type": "area", "color": "#d96050", "clip": true},
         "encoding": {"y2": {"field": "mag2"},
           "x": {"field": "t", "type": "quantitative", "axis": {"orient": "bottom", "values": [0.3,0.4,0.6,0.7,0.8,0.9,3,5,6,7,9], "labels": false, "domain": false, "tickSize": -2.5, "title": null}},
           "y": {"field": "mag", "type": "quantitative", "axis": {"orient": "left", "values": [17,19,21,23,25], "labels": false, "domain": false, "tickSize": -2.5, "title": null}}}},
        {"data": {"name": "curves"}, "transform": [{"filter": "datum.panel==='b'"}], "mark": {"type": "line", "strokeWidth": 2, "clip": true},
         "encoding": {"detail": {"field": "curve"}, "stroke": {"field": "series", "title": null}, "strokeDash": {"field": "series", "title": null}}},
        {"data": {"name": "limits"}, "transform": [{"filter": "datum.t===2"}], "mark": {"type": "rule", "color": "#000", "opacity": 0.7, "strokeWidth": 1.5}, "encoding": {"x": null, "y": {"field": "mag", "type": "quantitative", "axis": null}}},
        {"data": {"name": "limits"}, "mark": {"type": "rule", "color": "#000", "strokeWidth": 1},
         "encoding": {"y2": {"field": "mag2"},
           "x": {"field": "t", "type": "quantitative", "axis": {"orient": "top", "values": [0.5,1,2,4,8], "labels": false, "title": null}},
           "y": {"field": "mag", "type": "quantitative", "axis": {"orient": "right", "values": [16,18,20,22,24,26], "labels": false, "title": null}}}},
        {"data": {"name": "limits"}, "mark": {"type": "point", "shape": "triangle-down", "filled": true, "color": "#000", "opacity": 1, "size": 16},
         "encoding": {
           "x": {"field": "t", "type": "quantitative", "axis": {"orient": "top", "values": [0.3,0.4,0.6,0.7,0.8,0.9,3,5,6,7,9], "labels": false, "domain": false, "tickSize": -2.5, "title": null}},
           "y": {"field": "mag2", "type": "quantitative", "axis": {"orient": "right", "values": [17,19,21,23,25], "labels": false, "domain": false, "tickSize": -2.5, "title": null}}}},
        {"data": {"values": []}, "mark": {"type": "point", "filled": false},
         "encoding": {
           "stroke": {"field": "series", "title": null, "scale": {"domain": ["2σ, based on Barbieri et al. (2020)"], "range": ["#8c2a1e"]}},
           "fill": {"field": "series", "title": null, "scale": {"domain": ["2σ, based on Barbieri et al. (2020)"], "range": ["transparent"]}},
           "shape": {"field": "series", "title": null, "scale": {"domain": ["2σ, based on Barbieri et al. (2020)"], "range": ["M-1,0H1"]}},
           "strokeDash": {"field": "series", "title": null, "scale": {"domain": ["2σ, based on Barbieri et al. (2020)"], "range": [[11,3,2,3]]}}
         }}
      ]
    },
    {
      "width": 266, "height": 189,
      "encoding": {
        "x": {"field": "t", "type": "quantitative", "scale": {"type": "log", "base": 2, "domain": [0.3, 9], "nice": false}, "axis": null},
        "y": {"field": "mag", "type": "quantitative", "scale": {"domain": [15.5, 27], "reverse": true, "nice": false, "zero": false}, "axis": null}
      },
      "resolve": {"axis": {"x": "independent", "y": "independent"}},
      "layer": [
        {"data": {"name": "bands"}, "transform": [{"filter": "datum.model==='NSNS' && datum.level==='outer'"}], "mark": {"type": "area", "color": "#fbd2b0", "clip": true},
         "encoding": {"y2": {"field": "mag2"},
           "x": {"field": "t", "type": "quantitative", "axis": {"orient": "bottom", "values": [0.5,1,2,4,8], "format": ".1f", "title": "time (days)"}},
           "y": {"field": "mag", "type": "quantitative", "axis": {"orient": "left", "values": [16,18,20,22,24,26], "title": null}}}},
        {"data": {"name": "bands"}, "transform": [{"filter": "datum.model==='NSNS' && datum.level==='inner'"}], "mark": {"type": "area", "color": "#d96050", "clip": true},
         "encoding": {"y2": {"field": "mag2"},
           "x": {"field": "t", "type": "quantitative", "axis": {"orient": "bottom", "values": [0.3,0.4,0.6,0.7,0.8,0.9,3,5,6,7,9], "labels": false, "domain": false, "tickSize": -2.5, "title": null}},
           "y": {"field": "mag", "type": "quantitative", "axis": {"orient": "left", "values": [17,19,21,23,25], "labels": false, "domain": false, "tickSize": -2.5, "title": null}}}},
        {"data": {"name": "curves"}, "transform": [{"filter": "datum.panel==='c'"}], "mark": {"type": "line", "strokeWidth": 2, "clip": true},
         "encoding": {"detail": {"field": "curve"}, "stroke": {"field": "series", "title": null}, "strokeDash": {"field": "series", "title": null}}},
        {"data": {"name": "limits"}, "transform": [{"filter": "datum.t===2"}], "mark": {"type": "rule", "color": "#000", "opacity": 0.7, "strokeWidth": 1.5}, "encoding": {"x": null, "y": {"field": "mag", "type": "quantitative", "axis": null}}},
        {"data": {"name": "limits"}, "mark": {"type": "rule", "color": "#000", "strokeWidth": 1},
         "encoding": {"y2": {"field": "mag2"},
           "x": {"field": "t", "type": "quantitative", "axis": {"orient": "top", "values": [0.5,1,2,4,8], "labels": false, "title": null}},
           "y": {"field": "mag", "type": "quantitative", "axis": {"orient": "right", "values": [16,18,20,22,24,26], "labels": false, "title": null}}}},
        {"data": {"name": "limits"}, "mark": {"type": "point", "shape": "triangle-down", "filled": true, "color": "#000", "opacity": 1, "size": 16},
         "encoding": {
           "x": {"field": "t", "type": "quantitative", "axis": {"orient": "top", "values": [0.3,0.4,0.6,0.7,0.8,0.9,3,5,6,7,9], "labels": false, "domain": false, "tickSize": -2.5, "title": null}},
           "y": {"field": "mag2", "type": "quantitative", "axis": {"orient": "right", "values": [17,19,21,23,25], "labels": false, "domain": false, "tickSize": -2.5, "title": null}}}},
        {"data": {"values": []}, "mark": {"type": "point", "filled": false},
         "encoding": {
           "stroke": {"field": "series", "title": null, "scale": {"domain": ["Bulla (2019), equatorial view", "Bulla (2019), polar view"], "range": ["#e8962a", "#ecac6e"]}},
           "fill": {"field": "series", "title": null, "scale": {"domain": ["Bulla (2019), equatorial view", "Bulla (2019), polar view"], "range": ["transparent", "transparent"]}},
           "shape": {"field": "series", "title": null, "scale": {"domain": ["Bulla (2019), equatorial view", "Bulla (2019), polar view"], "range": ["M-1,0H1", "M-1,0H1"]}},
           "strokeDash": {"field": "series", "title": null, "scale": {"domain": ["Bulla (2019), equatorial view", "Bulla (2019), polar view"], "range": [[7,3], [11,3,2,3]]}}
         }}
      ]
    },
    {
      "width": 266, "height": 189,
      "encoding": {
        "x": {"field": "t", "type": "quantitative", "scale": {"type": "log", "base": 2, "domain": [0.3, 9], "nice": false}, "axis": null},
        "y": {"field": "mag", "type": "quantitative", "scale": {"domain": [15.5, 27], "reverse": true, "nice": false, "zero": false}, "axis": null}
      },
      "resolve": {"axis": {"x": "independent", "y": "independent"}},
      "layer": [
        {"data": {"name": "bands"}, "transform": [{"filter": "datum.model==='NSBH' && datum.level==='outer'"}], "mark": {"type": "area", "color": "#fbd2b0", "clip": true},
         "encoding": {"y2": {"field": "mag2"},
           "x": {"field": "t", "type": "quantitative", "axis": {"orient": "bottom", "values": [0.5,1,2,4,8], "format": ".1f", "title": "time (days)"}},
           "y": {"field": "mag", "type": "quantitative", "axis": {"orient": "left", "values": [16,18,20,22,24,26], "labels": false, "title": null}}}},
        {"data": {"name": "bands"}, "transform": [{"filter": "datum.model==='NSBH' && datum.level==='inner'"}], "mark": {"type": "area", "color": "#d96050", "clip": true},
         "encoding": {"y2": {"field": "mag2"},
           "x": {"field": "t", "type": "quantitative", "axis": {"orient": "bottom", "values": [0.3,0.4,0.6,0.7,0.8,0.9,3,5,6,7,9], "labels": false, "domain": false, "tickSize": -2.5, "title": null}},
           "y": {"field": "mag", "type": "quantitative", "axis": {"orient": "left", "values": [17,19,21,23,25], "labels": false, "domain": false, "tickSize": -2.5, "title": null}}}},
        {"data": {"name": "curves"}, "transform": [{"filter": "datum.panel==='d'"}], "mark": {"type": "line", "strokeWidth": 2, "clip": true},
         "encoding": {"detail": {"field": "curve"}, "stroke": {"field": "series", "title": null}, "strokeDash": {"field": "series", "title": null}}},
        {"data": {"name": "limits"}, "transform": [{"filter": "datum.t===2"}], "mark": {"type": "rule", "color": "#000", "opacity": 0.7, "strokeWidth": 1.5}, "encoding": {"x": null, "y": {"field": "mag", "type": "quantitative", "axis": null}}},
        {"data": {"name": "limits"}, "mark": {"type": "rule", "color": "#000", "strokeWidth": 1},
         "encoding": {"y2": {"field": "mag2"},
           "x": {"field": "t", "type": "quantitative", "axis": {"orient": "top", "values": [0.5,1,2,4,8], "labels": false, "title": null}},
           "y": {"field": "mag", "type": "quantitative", "axis": {"orient": "right", "values": [16,18,20,22,24,26], "labels": false, "title": null}}}},
        {"data": {"name": "limits"}, "mark": {"type": "point", "shape": "triangle-down", "filled": true, "color": "#000", "opacity": 1, "size": 16},
         "encoding": {
           "x": {"field": "t", "type": "quantitative", "axis": {"orient": "top", "values": [0.3,0.4,0.6,0.7,0.8,0.9,3,5,6,7,9], "labels": false, "domain": false, "tickSize": -2.5, "title": null}},
           "y": {"field": "mag2", "type": "quantitative", "axis": {"orient": "right", "values": [17,19,21,23,25], "labels": false, "domain": false, "tickSize": -2.5, "title": null}}}},
        {"data": {"values": []}, "mark": {"type": "point", "filled": false},
         "encoding": {
           "stroke": {"field": "series", "title": null, "scale": {"domain": ["Kyutoku et al. (2020)", "Bulla (2019), equatorial view", "Bulla (2019), polar view"], "range": ["#a97c5f", "#e8962a", "#ecac6e"]}},
           "fill": {"field": "series", "title": null, "scale": {"domain": ["Kyutoku et al. (2020)", "Bulla (2019), equatorial view", "Bulla (2019), polar view"], "range": ["transparent", "transparent", "transparent"]}},
           "shape": {"field": "series", "title": null, "scale": {"domain": ["Kyutoku et al. (2020)", "Bulla (2019), equatorial view", "Bulla (2019), polar view"], "range": ["M-1,0H1", "M-1,0H1", "M-1,0H1"]}},
           "strokeDash": {"field": "series", "title": null, "scale": {"domain": ["Kyutoku et al. (2020)", "Bulla (2019), equatorial view", "Bulla (2019), polar view"], "range": [[1,0], [7,3], [11,3,2,3]]}}
         }}
      ]
    }
  ]
}
